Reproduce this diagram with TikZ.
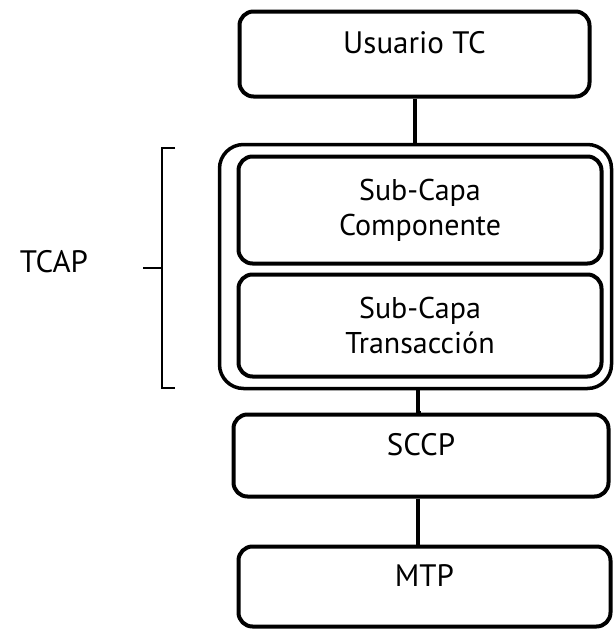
\documentclass[tikz,border=0pt]{standalone}
\usepackage{fontspec}
\setmainfont{PT Sans}
\usepackage{tikz}

\begin{document}
\begin{tikzpicture}[x=1pt, y=-1pt,
    layer/.style={draw, line width=4pt, rounded corners=14pt, align=center,
        text height=20pt, text depth=21pt, font=\fontsize{31}{35}\selectfont},
    sublayer/.style={draw, line width=4pt, rounded corners=14pt, align=center,
        font=\fontsize{30}{35}\selectfont},
    link/.style={line width=4pt}
    ]
    \useasboundingbox (0,0) rectangle (615,630);
    % stack of layers
    \node[layer, minimum width=350pt, minimum height=85pt] (usuario) at (414.5,54) {Usuario TC};
    \node[draw, line width=3.5pt, rounded corners=24pt, minimum width=392pt, minimum height=244pt] (tcap) at (415.5,266.5) {};
    \node[sublayer, minimum width=363pt, minimum height=107pt] (comp) at (420,210) {Sub-Capa\\Componente};
    \node[sublayer, minimum width=363pt, minimum height=102pt] (trans) at (420,325.5) {Sub-Capa\\Transacción};
    \node[layer, minimum width=375pt, minimum height=82pt] (sccp) at (421,455.5) {SCCP};
    \node[layer, minimum width=372pt, minimum height=80pt] (mtp) at (424.5,586.5) {MTP};
    \draw[link] (usuario.south) -- (usuario.south |- tcap.north);
    \draw[link] (tcap.south) -- (tcap.south -| 418,0) |- (sccp.north);
    \draw[link] (sccp.south -| 418,0) -- (mtp.north -| 418,0);
    % brace for TCAP
    \node[font=\fontsize{31}{35}\selectfont] (tcaplbl) at (54,262) {TCAP};
    \draw[line width=2.5pt] (175,148) -- (162,148) -- (162,388) -- (175,388)
        (143,268) -- (162,268);
\end{tikzpicture}
\end{document}
